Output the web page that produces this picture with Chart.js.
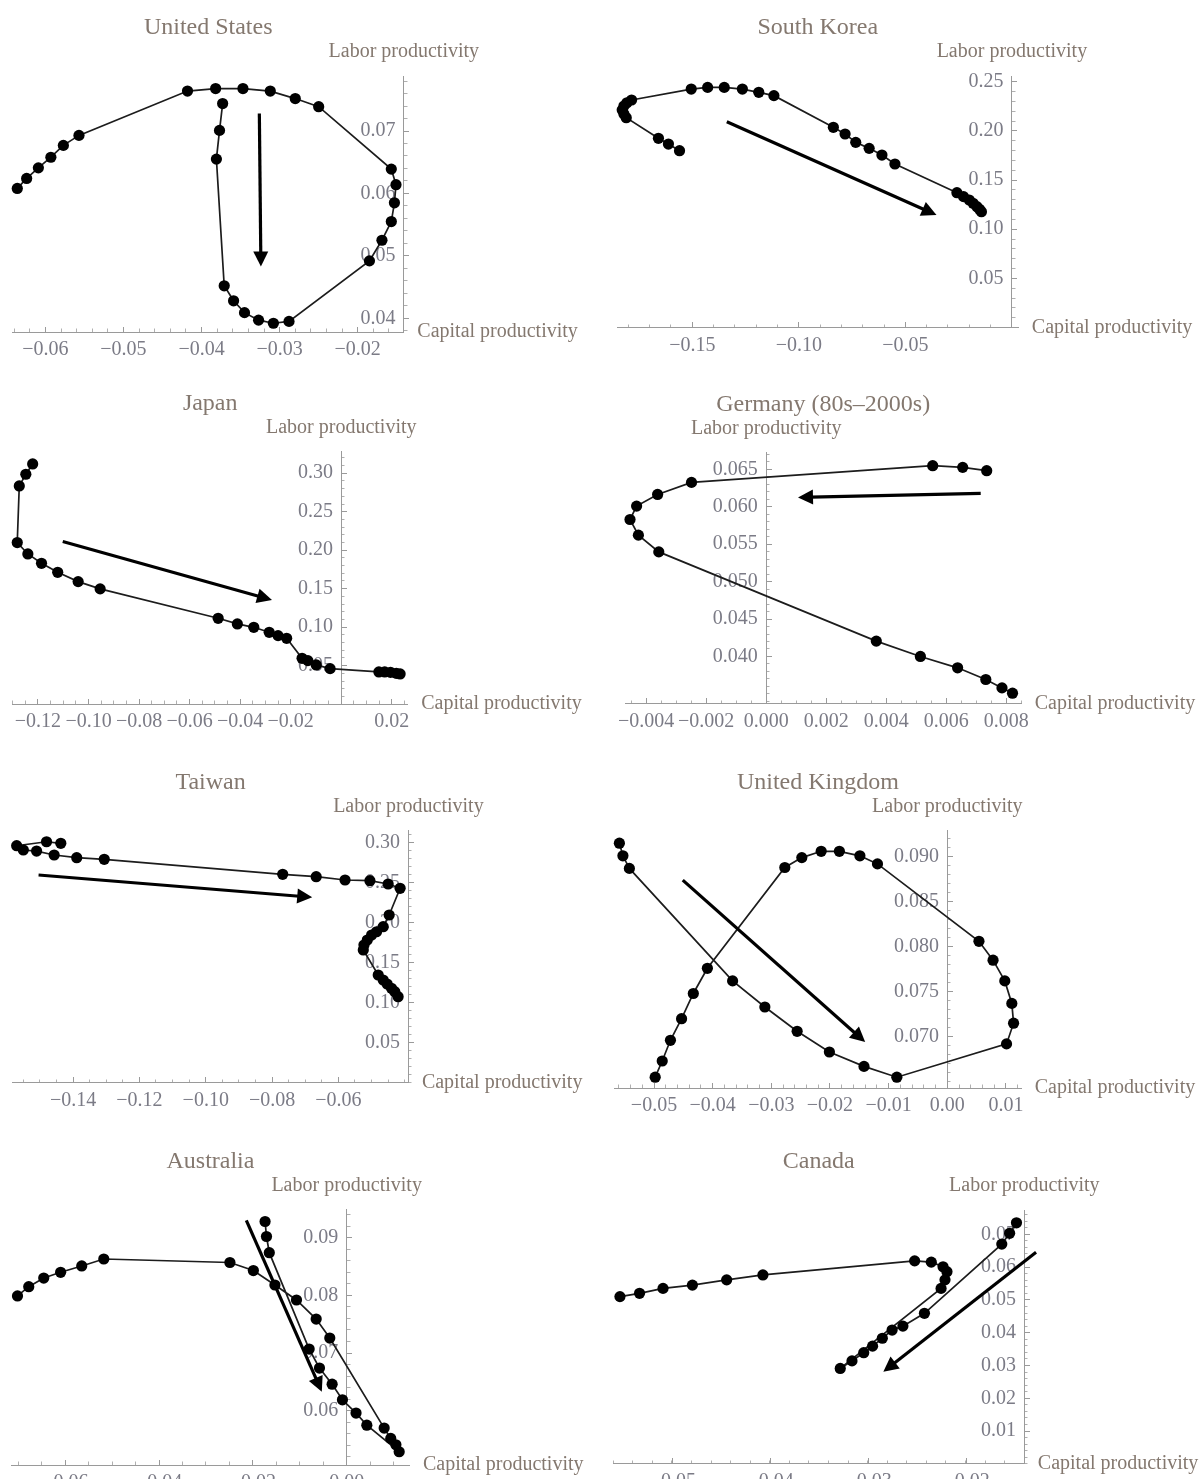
<!DOCTYPE html>
<html>
<head>
<meta charset="utf-8">
<script src="https://cdn.jsdelivr.net/npm/chart.js@4.4.0/dist/chart.umd.min.js"></script>
<style>
    body { margin: 0; background: #fff; width: 1202px; height: 1479px; overflow: hidden; position: relative; }
    canvas { position: absolute; }
</style>
</head>
<body>
<script>
// Capital vs labor productivity paths, eight economies

// United States
const usCapital = [-0.0636, -0.0624, -0.0609, -0.0593, -0.0577, -0.0557, -0.0418, -0.0382, -0.0347, -0.0312, -0.0280, -0.0250, -0.0157, -0.0151, -0.0153, -0.0157, -0.0169, -0.0185, -0.0288, -0.0308, -0.0327, -0.0345, -0.0359, -0.0371, -0.0381, -0.0377, -0.0373];
const usLabor = [0.0608, 0.0624, 0.0641, 0.0658, 0.0677, 0.0693, 0.0764, 0.0768, 0.0768, 0.0764, 0.0752, 0.0739, 0.0639, 0.0614, 0.0585, 0.0555, 0.0525, 0.0492, 0.0395, 0.0392, 0.0397, 0.0409, 0.0428, 0.0452, 0.0655, 0.0701, 0.0744];
const usArrow = [-0.0326, 0.0728, -0.0324, 0.0483];
const usXTicks = [-0.06, -0.05, -0.04, -0.03, -0.02];
const usYTicks = [0.04, 0.05, 0.06, 0.07];

// South Korea
const krCapital = [-0.1560, -0.1612, -0.1659, -0.1810, -0.1821, -0.1829, -0.1821, -0.1807, -0.1785, -0.1505, -0.1428, -0.1350, -0.1265, -0.1188, -0.1117, -0.0838, -0.0783, -0.0733, -0.0670, -0.0610, -0.0549, -0.0258, -0.0227, -0.0200, -0.0182, -0.0164, -0.0152, -0.0143];
const krLabor = [0.1798, 0.1866, 0.1924, 0.2134, 0.2171, 0.2212, 0.2253, 0.2286, 0.2314, 0.2425, 0.2442, 0.2442, 0.2425, 0.2392, 0.2358, 0.2036, 0.1968, 0.1883, 0.1822, 0.1754, 0.1663, 0.1371, 0.1331, 0.1297, 0.1263, 0.1229, 0.1202, 0.1178];
const krArrow = [-0.1338, 0.2093, -0.0354, 0.1144];
const krXTicks = [-0.15, -0.10, -0.05];
const krYTicks = [0.05, 0.10, 0.15, 0.20, 0.25];

// Japan
const jpCapital = [-0.1221, -0.1248, -0.1274, -0.1282, -0.1240, -0.1186, -0.1122, -0.1041, -0.0954, -0.0487, -0.0411, -0.0346, -0.0285, -0.0250, -0.0216, -0.0155, -0.0132, -0.0099, -0.0044, 0.0149, 0.0172, 0.0195, 0.0218, 0.0233];
const jpLabor = [0.3121, 0.2987, 0.2835, 0.2099, 0.1951, 0.1830, 0.1713, 0.1592, 0.1497, 0.1115, 0.1042, 0.0998, 0.0933, 0.0890, 0.0855, 0.0595, 0.0565, 0.0509, 0.0461, 0.0418, 0.0418, 0.0413, 0.0400, 0.0392];
const jpArrow = [-0.1102, 0.2112, -0.0274, 0.1354];
const jpXTicks = [-0.12, -0.10, -0.08, -0.06, -0.04, -0.02, 0.02];
const jpYTicks = [0.05, 0.10, 0.15, 0.20, 0.25, 0.30];

// Germany (80s-2000s)
const deCapital = [0.00821, 0.00786, 0.00732, 0.00638, 0.00514, 0.00367, -0.00358, -0.00426, -0.00454, -0.00432, -0.00362, -0.00249, 0.00555, 0.00655, 0.00735];
const deLabor = [0.03509, 0.03580, 0.03692, 0.03848, 0.04000, 0.04205, 0.05397, 0.05621, 0.05830, 0.06009, 0.06165, 0.06326, 0.06549, 0.06527, 0.06482];
const deArrow = [0.00715, 0.06179, 0.00106, 0.06125];
const deXTicks = [-0.004, -0.002, 0, 0.002, 0.004, 0.006, 0.008];
const deYTicks = [0.040, 0.045, 0.050, 0.055, 0.060, 0.065];

// Taiwan
const twCapital = [-0.1437, -0.1480, -0.1570, -0.1550, -0.1510, -0.1457, -0.1389, -0.1306, -0.0768, -0.0667, -0.0580, -0.0505, -0.0450, -0.0414, -0.0447, -0.0465, -0.0485, -0.0500, -0.0513, -0.0523, -0.0525, -0.0480, -0.0465, -0.0453, -0.0440, -0.0430, -0.0420];
const twLabor = [0.2988, 0.3007, 0.2958, 0.2904, 0.2891, 0.2842, 0.2808, 0.2788, 0.2601, 0.2571, 0.2530, 0.2521, 0.2480, 0.2426, 0.2093, 0.1947, 0.1884, 0.1843, 0.1780, 0.1718, 0.1656, 0.1344, 0.1282, 0.1232, 0.1178, 0.1136, 0.1073];
const twArrow = [-0.1504, 0.2592, -0.0679, 0.2314];
const twXTicks = [-0.14, -0.12, -0.10, -0.08, -0.06];
const twYTicks = [0.05, 0.10, 0.15, 0.20, 0.25, 0.30];

// United Kingdom
const ukCapital = [-0.0559, -0.0553, -0.0542, -0.0366, -0.0311, -0.0256, -0.0201, -0.0142, -0.0086, 0.0101, 0.0113, 0.0110, 0.0098, 0.0078, 0.0054, -0.0119, -0.0149, -0.0184, -0.0215, -0.0248, -0.0277, -0.0409, -0.0433, -0.0453, -0.0472, -0.0486, -0.0498];
const ukLabor = [0.0915, 0.0901, 0.0887, 0.0762, 0.0733, 0.0706, 0.0683, 0.0667, 0.0655, 0.0692, 0.0715, 0.0737, 0.0762, 0.0785, 0.0806, 0.0892, 0.0901, 0.0906, 0.0906, 0.0899, 0.0888, 0.0776, 0.0748, 0.0720, 0.0696, 0.0673, 0.0655];
const ukArrow = [-0.0451, 0.0874, -0.0140, 0.0694];
const ukXTicks = [-0.05, -0.04, -0.03, -0.02, -0.01, 0, 0.01];
const ukYTicks = [0.070, 0.075, 0.080, 0.085, 0.090];

// Australia
const auCapital = [-0.0702, -0.0678, -0.0646, -0.0610, -0.0565, -0.0518, -0.0249, -0.0199, -0.0153, -0.0107, -0.0065, -0.0036, 0.0080, 0.0094, 0.0105, 0.0112, 0.0043, 0.0020, -0.0009, -0.0031, -0.0058, -0.0080, -0.0165, -0.0171, -0.0174];
const auLabor = [0.0799, 0.0815, 0.0830, 0.0840, 0.0851, 0.0863, 0.0857, 0.0843, 0.0818, 0.0792, 0.0759, 0.0726, 0.0570, 0.0552, 0.0541, 0.0529, 0.0575, 0.0596, 0.0619, 0.0646, 0.0674, 0.0707, 0.0874, 0.0902, 0.0928];
const auArrow = [-0.0214, 0.0930, -0.0053, 0.0633];
const auXTicks = [-0.06, -0.04, -0.02, 0];
const auYTicks = [0.06, 0.07, 0.08, 0.09];

// Canada
const caCapital = [-0.0149, -0.0156, -0.0164, -0.0243, -0.0265, -0.0276, -0.0286, -0.0296, -0.0305, -0.0317, -0.0329, -0.0226, -0.0222, -0.0220, -0.0224, -0.0236, -0.0253, -0.0408, -0.0445, -0.0480, -0.0510, -0.0534, -0.0554];
const caLabor = [0.0735, 0.0703, 0.0670, 0.0459, 0.0420, 0.0408, 0.0383, 0.0359, 0.0339, 0.0314, 0.0291, 0.0535, 0.0561, 0.0586, 0.0601, 0.0615, 0.0619, 0.0576, 0.0561, 0.0545, 0.0535, 0.0520, 0.0510];
const caArrow = [-0.0129, 0.0645, -0.0285, 0.0281];
const caXTicks = [-0.05, -0.04, -0.03, -0.02];
const caYTicks = [0.01, 0.02, 0.03, 0.04, 0.05, 0.06, 0.07];

const SERIF = '"Liberation Serif", "Times New Roman", serif';
const TITLE_COLOR = '#84786f';
const TICK_COLOR = '#7b7b86';
const AXIS_COLOR = '#9a9a9a';

// canvas: [left, top, width, height]; box: plot area in page pixels [left, top, right, bottom]
// bottom row canvases run past the window so their tick labels get cut like the original
const panels = [
    { title: 'United States', capital: usCapital, labor: usLabor, arrow: usArrow, xTicks: usXTicks, yTicks: usYTicks,
      xDec: 2, yDec: 2, xMinor: 0.002, yMinor: 0.002, xRange: [-0.0642, -0.0141], yRange: [0.0378, 0.0788], yAxisAt: -0.0141,
      canvas: [0, 0, 601, 380], box: [12.6, 76.1, 403.8, 332] },
    { title: 'South Korea', capital: krCapital, labor: krLabor, arrow: krArrow, xTicks: krXTicks, yTicks: krYTicks,
      xDec: 2, yDec: 2, xMinor: 0.01, yMinor: 0.01, xRange: [-0.1852, 0.003], yRange: [0, 0.2558], yAxisAt: 0,
      canvas: [601, 0, 601, 380], box: [617.3, 76, 1018.3, 327.5] },
    { title: 'Japan', capital: jpCapital, labor: jpLabor, arrow: jpArrow, xTicks: jpXTicks, yTicks: jpYTicks,
      xDec: 2, yDec: 2, xMinor: 0.005, yMinor: 0.01, xRange: [-0.130, 0.0263], yRange: [0, 0.328], yAxisAt: 0,
      canvas: [0, 380, 601, 380], box: [12.7, 451.7, 407.7, 704.1] },
    { title: 'Germany (80s\u20132000s)', capital: deCapital, labor: deLabor, arrow: deArrow, xTicks: deXTicks, yTicks: deYTicks,
      xDec: 3, yDec: 3, xMinor: 0.0005, yMinor: 0.001, xRange: [-0.0047, 0.0085], yRange: [0.0337, 0.0672], yAxisAt: 0,
      canvas: [601, 380, 601, 380], box: [625.2, 452.9, 1021.2, 703.6] },
    { title: 'Taiwan', capital: twCapital, labor: twLabor, arrow: twArrow, xTicks: twXTicks, yTicks: twYTicks,
      xDec: 2, yDec: 2, xMinor: 0.005, yMinor: 0.01, xRange: [-0.1582, -0.0389], yRange: [0, 0.3145], yAxisAt: -0.0389,
      canvas: [0, 760, 601, 380], box: [12.7, 830.7, 408.4, 1082.7] },
    { title: 'United Kingdom', capital: ukCapital, labor: ukLabor, arrow: ukArrow, xTicks: ukXTicks, yTicks: ukYTicks,
      xDec: 2, yDec: 3, xMinor: 0.002, yMinor: 0.001, xRange: [-0.0567, 0.0126], yRange: [0.0643, 0.0929], yAxisAt: 0,
      canvas: [601, 760, 601, 380], box: [614.7, 830.6, 1021.2, 1088] },
    { title: 'Australia', capital: auCapital, labor: auLabor, arrow: auArrow, xTicks: auXTicks, yTicks: auYTicks,
      xDec: 2, yDec: 2, xMinor: 0.005, yMinor: 0.002, xRange: [-0.0715, 0.0134], yRange: [0.0506, 0.0949], yAxisAt: 0,
      canvas: [0, 1140, 601, 380], box: [11.4, 1209.4, 409.5, 1465] },
    { title: 'Canada', capital: caCapital, labor: caLabor, arrow: caArrow, xTicks: caXTicks, yTicks: caYTicks,
      xDec: 2, yDec: 2, xMinor: 0.002, yMinor: 0.002, xRange: [-0.0561, -0.0141], yRange: [0, 0.0774], yAxisAt: -0.0141,
      canvas: [601, 1140, 601, 380], box: [613.1, 1210, 1024.3, 1463.9] }
];

function fmt(v, dec) {
    const s = Math.abs(v).toFixed(dec);
    return v < -1e-12 ? '\u2212' + s : s;
}

function majorAxis(list, dec, range, position, suffix) {
    return {
        type: 'linear',
        min: range[0],
        max: range[1],
        position: position,
        afterBuildTicks: function(scale) {
            scale.ticks = list.map(v => ({ value: v }));
        },
        border: { display: true, color: AXIS_COLOR, width: 1 },
        grid: { drawOnChartArea: false, drawTicks: true, tickLength: -6, tickColor: AXIS_COLOR },
        ticks: {
            autoSkip: false,
            maxRotation: 0,
            padding: 12,
            color: TICK_COLOR,
            font: { family: SERIF, size: 20 },
            callback: function(value) {
                // spaces keep the y labels off the axis line
                return fmt(value, dec) + suffix;
            }
        }
    };
}

function minorAxis(step, range, position) {
    return {
        type: 'linear',
        min: range[0],
        max: range[1],
        position: position,
        border: { display: false },
        grid: { drawOnChartArea: false, drawTicks: true, tickLength: -3.5, tickColor: '#b0b0b0' },
        ticks: { display: false, stepSize: step, includeBounds: false, autoSkip: false }
    };
}

function decorPlugin(p) {
    return {
        id: 'decor',
        afterDraw(chart) {
            const { ctx, chartArea, scales } = chart;
            const yAxisPx = scales.x.getPixelForValue(p.yAxisAt);
            const xAxisPx = scales.y.getPixelForValue(p.yRange[0]);
            ctx.save();
            ctx.fillStyle = TITLE_COLOR;
            ctx.textBaseline = 'middle';
            ctx.textAlign = 'center';
            ctx.font = '24px ' + SERIF;
            ctx.fillText(p.title, (chartArea.left + chartArea.right) / 2, chartArea.top - 48);
            ctx.font = '20px ' + SERIF;
            ctx.fillText('Labor productivity', yAxisPx, chartArea.top - 24);
            ctx.textAlign = 'left';
            ctx.fillText('Capital productivity', chartArea.right + 13.5, xAxisPx);

            // direction arrow
            const ax = scales.x.getPixelForValue(p.arrow[0]);
            const ay = scales.y.getPixelForValue(p.arrow[1]);
            const bx = scales.x.getPixelForValue(p.arrow[2]);
            const by = scales.y.getPixelForValue(p.arrow[3]);
            const ang = Math.atan2(by - ay, bx - ax);
            const head = 15, half = 7.5;
            const cx = bx - head * Math.cos(ang), cy = by - head * Math.sin(ang);
            ctx.strokeStyle = '#000';
            ctx.fillStyle = '#000';
            ctx.lineWidth = 3.2;
            ctx.beginPath();
            ctx.moveTo(ax, ay);
            ctx.lineTo(cx + 2 * Math.cos(ang), cy + 2 * Math.sin(ang));
            ctx.stroke();
            ctx.beginPath();
            ctx.moveTo(bx, by);
            ctx.lineTo(cx + half * Math.sin(ang), cy - half * Math.cos(ang));
            ctx.lineTo(cx - half * Math.sin(ang), cy + half * Math.cos(ang));
            ctx.closePath();
            ctx.fill();
            ctx.restore();
        }
    };
}

panels.forEach(function(p) {
    const [cl, ct, cw, ch] = p.canvas;
    const [bl, bt, br, bb] = p.box;
    const canvas = document.createElement('canvas');
    canvas.width = cw;
    canvas.height = ch;
    canvas.style.left = cl + 'px';
    canvas.style.top = ct + 'px';
    canvas.style.width = cw + 'px';
    canvas.style.height = ch + 'px';
    document.body.appendChild(canvas);

    const points = p.capital.map((x, i) => ({ x: x, y: p.labor[i] }));

    new Chart(canvas.getContext('2d'), {
        type: 'scatter',
        data: {
            datasets: [{
                data: points,
                showLine: true,
                borderColor: '#1c1c1c',
                borderWidth: 1.7,
                pointRadius: 5.6,
                pointHoverRadius: 5.6,
                pointBackgroundColor: '#000',
                pointBorderWidth: 0,
                clip: false
            }]
        },
        options: {
            responsive: false,
            animation: false,
            events: [],
            layout: { padding: { left: bl - cl, top: bt - ct, right: cl + cw - br, bottom: ct + ch - bb } },
            plugins: { legend: { display: false }, tooltip: { enabled: false }, title: { display: false } },
            scales: {
                xm: minorAxis(p.xMinor, p.xRange, { y: p.yRange[0] }),
                ym: minorAxis(p.yMinor, p.yRange, { x: p.yAxisAt }),
                x: majorAxis(p.xTicks, p.xDec, p.xRange, { y: p.yRange[0] }, ''),
                y: majorAxis(p.yTicks, p.yDec, p.yRange, { x: p.yAxisAt }, '\u2005\u2006')
            }
        },
        plugins: [decorPlugin(p)]
    });
});
</script>
</body>
</html>
